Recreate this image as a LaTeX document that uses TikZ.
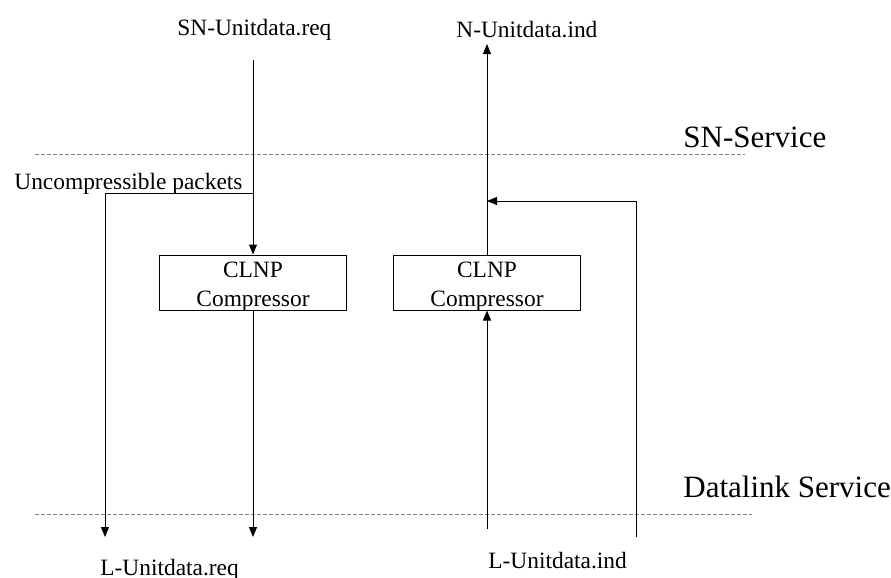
\documentclass[tikz,border=0pt]{standalone}
\usepackage{fontspec}
\setmainfont{Liberation Serif}
\usetikzlibrary{arrows.meta}

% two lines of a compressor box, first baseline pushed down a little
\newcommand{\boxlines}[2]{\rule{0pt}{9pt}#1\\\raisebox{0pt}[\height][0pt]{#2}}

\begin{document}
\begin{tikzpicture}[x=0.5pt, y=-0.5pt,
  comp/.style={draw, line width=0.5pt, minimum width=93.5pt, minimum height=27.5pt,
    align=center, inner sep=0pt, font=\fontsize{11.7}{14.5}\selectfont},
  lbl/.style={font=\fontsize{11.7}{14}\selectfont, inner sep=0pt, anchor=base west},
  big/.style={font=\fontsize{15.5}{18}\selectfont, inner sep=0pt, anchor=base west},
  flow/.style={-{Triangle[length=5pt, width=4pt]}, line width=0.5pt},
  layer/.style={gray, line width=0.5pt, dash pattern=on 2pt off 1pt}
]
  \useasboundingbox (0,0) rectangle (891,578);

  % the two compressors
  \node[comp] (cl) at (253,282.5) {\boxlines{CLNP}{Compressor}};
  \node[comp] (cr) at (487,282.5) {\boxlines{CLNP}{Compressor}};

  % service primitives
  \node[lbl] (snreq) at (177,35) {SN-Unitdata.req};
  \node[lbl] (nind) at (456,38) {N-Unitdata.ind};
  \node[lbl] (lreq) at (100,575) {L-Unitdata.req};
  \node[lbl] (lind) at (488,568) {L-Unitdata.ind};
  \node[lbl] (unc) at (14,189) {Uncompressible packets};

  % service boundaries
  \node[big] (sn) at (683,148) {SN-Service};
  \node[big] (dl) at (683,497) {Datalink Service};
  \draw[layer] (35,154) -- (745,154);
  \draw[layer] (35,514) -- (752,514);

  % ends of the flows
  \coordinate (reqin) at (253,60);
  \coordinate (split) at (253,193);
  \coordinate (bend) at (105,193);
  \coordinate (rawout) at (105,537);
  \coordinate (reqout) at (253,537);
  \coordinate (indin) at (487,529);
  \coordinate (rawin) at (636,537);
  \coordinate (turn) at (636,201);
  \coordinate (join) at (487,201);
  \coordinate (indout) at (487,44);

  \draw[flow] (reqin) -- (cl.north);
  \draw[flow] (split) -- (bend) -- (rawout);
  \draw[flow] (cl.south) -- (reqout);
  \draw[flow] (indin) -- (cr.south);
  \draw[flow] (rawin) -- (turn) -- (join);
  \draw[flow] (cr.north) -- (indout);
\end{tikzpicture}
\end{document}
